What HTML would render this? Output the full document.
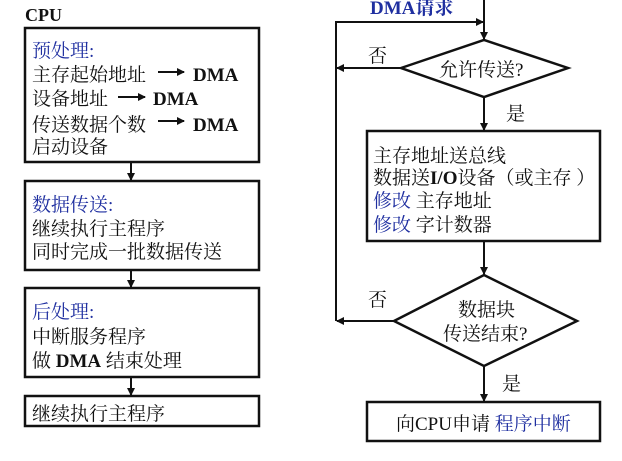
<!DOCTYPE html>
<html><head><meta charset="utf-8"><style>
body{margin:0;background:#fff;}
svg text{font-family:"Liberation Serif","Noto Serif CJK SC",serif;font-size:19px;fill:#111;}
.b{fill:#1f2fa0;}
.bold{font-weight:bold;}
</style></head><body>
<svg width="622" height="456" viewBox="0 0 622 456" xmlns="http://www.w3.org/2000/svg">
<defs><marker id="a" markerWidth="8" markerHeight="8" refX="7" refY="4" orient="auto" markerUnits="userSpaceOnUse"><path d="M0,0 L8,4 L0,8z" fill="#111"/></marker></defs>
<g fill="none" stroke="#111" stroke-width="2.5">
<rect x="25" y="28" width="234" height="134"/>
<rect x="25" y="181" width="234" height="89"/>
<rect x="25" y="288" width="234" height="89"/>
<rect x="25" y="396" width="234" height="30"/>
<rect x="367" y="131" width="233" height="110"/>
<rect x="367" y="402" width="233" height="39"/>
<polygon points="401,68 484,40 568,68 484,97"/>
<polygon points="394,321 484,275 577,321 484,366"/>
</g>
<g stroke="#111" stroke-width="2" fill="none">
<line x1="131" y1="162" x2="131" y2="180" marker-end="url(#a)"/>
<line x1="131" y1="270" x2="131" y2="287" marker-end="url(#a)"/>
<line x1="131" y1="377" x2="131" y2="395" marker-end="url(#a)"/>
<line x1="484" y1="0" x2="484" y2="39" marker-end="url(#a)"/>
<polyline points="336,321 336,22 483,22" marker-end="url(#a)"/>
<line x1="401" y1="68" x2="337" y2="68" marker-end="url(#a)"/>
<line x1="484" y1="97" x2="484" y2="130" marker-end="url(#a)"/>
<line x1="484" y1="241" x2="484" y2="274" marker-end="url(#a)"/>
<line x1="394" y1="321" x2="337" y2="321" marker-end="url(#a)"/>
<line x1="484" y1="366" x2="484" y2="401" marker-end="url(#a)"/>
<line x1="158" y1="72" x2="184" y2="72" marker-end="url(#a)"/>
<line x1="118" y1="97" x2="145" y2="97" marker-end="url(#a)"/>
<line x1="158" y1="121" x2="184" y2="121" marker-end="url(#a)"/>
</g>
<text x="25" y="21" class="bold" style="font-size:18px">CPU</text>
<text x="32" y="57" class="b">预处理:</text>
<text x="32" y="81">主存起始地址</text><text x="193" y="81" class="bold">DMA</text>
<text x="32" y="105">设备地址</text><text x="153" y="105" class="bold">DMA</text>
<text x="32" y="131">传送数据个数</text><text x="193" y="131" class="bold">DMA</text>
<text x="32" y="153">启动设备</text>
<text x="32" y="211" class="b">数据传送:</text>
<text x="32" y="235">继续执行主程序</text>
<text x="32" y="258">同时完成一批数据传送</text>
<text x="32" y="318" class="b">后处理:</text>
<text x="32" y="343">中断服务程序</text>
<text x="32" y="367">做 <tspan class="bold">DMA</tspan> 结束处理</text>
<text x="32" y="420">继续执行主程序</text>
<text x="370" y="14" class="b bold">DMA请求</text>
<text x="368" y="62">否</text>
<text x="439" y="76">允许传送?</text>
<text x="506" y="120">是</text>
<text x="373" y="162">主存地址送总线</text>
<text x="373" y="184">数据送<tspan class="bold">I/O</tspan>设备（或主存 ）</text>
<text x="373" y="207"><tspan class="b">修改</tspan> 主存地址</text>
<text x="373" y="231"><tspan class="b">修改</tspan> 字计数器</text>
<text x="368" y="306">否</text>
<text x="458" y="316">数据块</text>
<text x="443" y="340">传送结束?</text>
<text x="502" y="390">是</text>
<text x="396" y="430">向CPU申请 <tspan class="b">程序中断</tspan></text>
</svg>
</body></html>
